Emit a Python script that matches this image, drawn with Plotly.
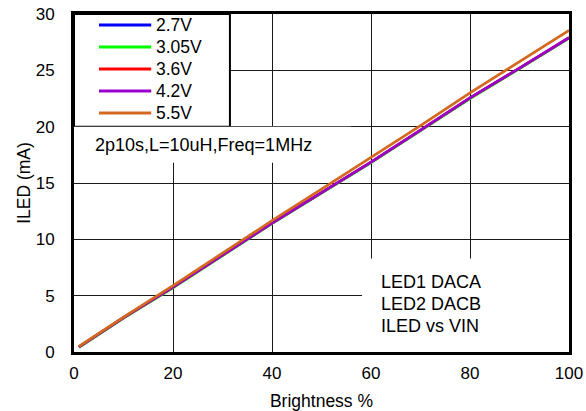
import plotly.graph_objects as go

brightness = [1, 10, 20, 30, 40, 50, 60, 70, 80, 90, 100]
series_names = ["2.7V", "3.05V", "3.6V", "4.2V", "5.5V"]
colors = ["#0000ff", "#00ff00", "#ff0000", "#9900cc", "#d2691e"]
iled_27 = [0.44, 3.04, 5.74, 8.58, 11.43, 14.13, 16.83, 19.68, 22.53, 25.18, 27.88]
iled_305 = [0.42, 3.0, 5.70, 8.55, 11.40, 14.10, 16.80, 19.65, 22.50, 25.15, 27.85]
iled_36 = [0.45, 3.05, 5.75, 8.60, 11.45, 14.15, 16.85, 19.70, 22.55, 25.20, 27.90]
iled_42 = [0.45, 3.05, 5.75, 8.60, 11.45, 14.15, 16.85, 19.70, 22.55, 25.20, 27.90]
iled_55 = [0.50, 3.10, 5.90, 8.80, 11.65, 14.45, 17.25, 20.10, 23.00, 25.80, 28.55]
series_values = [iled_27, iled_305, iled_36, iled_42, iled_55]

x_ticks = [0, 20, 40, 60, 80, 100]
y_ticks = [0, 5, 10, 15, 20, 25, 30]
note_main = "2p10s,L=10uH,Freq=1MHz"
note_lines = ["LED1 DACA", "LED2 DACB", "ILED vs VIN"]

FONT = "Liberation Sans, Arial, sans-serif"

fig = go.Figure()
for name, vals, c in zip(series_names, series_values, colors):
    fig.add_trace(go.Scatter(x=brightness, y=vals, mode="lines", name=name,
                             line=dict(color=c, width=2.7), showlegend=False))

# white boxes covering gridlines
fig.add_shape(type="rect", xref="x", yref="y", x0=0, x1=31.5, y0=20, y1=30,
              fillcolor="white", line=dict(color="black", width=2), layer="between")
fig.add_shape(type="rect", xref="x", yref="y", x0=0, x1=56, y0=16.8, y1=20,
              fillcolor="white", line=dict(width=0), layer="between")
fig.add_shape(type="rect", xref="x", yref="y", x0=58.2, x1=100, y0=0, y1=8.3,
              fillcolor="white", line=dict(width=0), layer="between")

# legend drawn inside the box
for i, (name, c) in enumerate(zip(series_names, colors)):
    yv = 29.02 - i * 1.953
    fig.add_shape(type="line", xref="x", yref="y", x0=5.05, x1=15.6, y0=yv, y1=yv,
                  line=dict(color=c, width=3), layer="above")
    fig.add_annotation(x=16.1, y=yv, xref="x", yref="y", text=name, showarrow=False,
                       xanchor="left", yanchor="middle",
                       font=dict(size=17.5, color="black", family=FONT))

fig.add_annotation(x=3.8, y=18.4, xref="x", yref="y", text=note_main, showarrow=False,
                   xanchor="left", yanchor="middle", font=dict(size=18, color="black", family=FONT))
for i, t in enumerate(note_lines):
    fig.add_annotation(x=61.6, y=6.2 - i * 1.95, xref="x", yref="y", text=t, showarrow=False,
                       xanchor="left", yanchor="middle", font=dict(size=18, color="black", family=FONT))

fig.update_layout(
    width=586, height=411,
    margin=dict(l=74, r=17, t=14, b=59),
    paper_bgcolor="white", plot_bgcolor="white",
    font=dict(family=FONT, size=17, color="black"),
    showlegend=False,
    xaxis=dict(range=[0, 100], tickvals=x_ticks, showgrid=True, gridcolor="#1a1a1a", gridwidth=1,
               showline=True, linecolor="black", linewidth=3, mirror=True, ticks="",
               ticklabelstandoff=4, zeroline=False, automargin=False,
               title=dict(text="Brightness %", font=dict(size=17.5), standoff=17)),
    yaxis=dict(range=[0, 30], tickvals=y_ticks, showgrid=True, gridcolor="#1a1a1a", gridwidth=1,
               showline=True, linecolor="black", linewidth=3, mirror=True, ticks="",
               ticklabelstandoff=13, zeroline=False, automargin=False,
               title=dict(text="ILED (mA)", font=dict(size=17.5), standoff=1)),
)

fig.write_html("out.html", config={"displayModeBar": False},
               post_script="document.body.style.margin='0';document.body.style.padding='0';")
